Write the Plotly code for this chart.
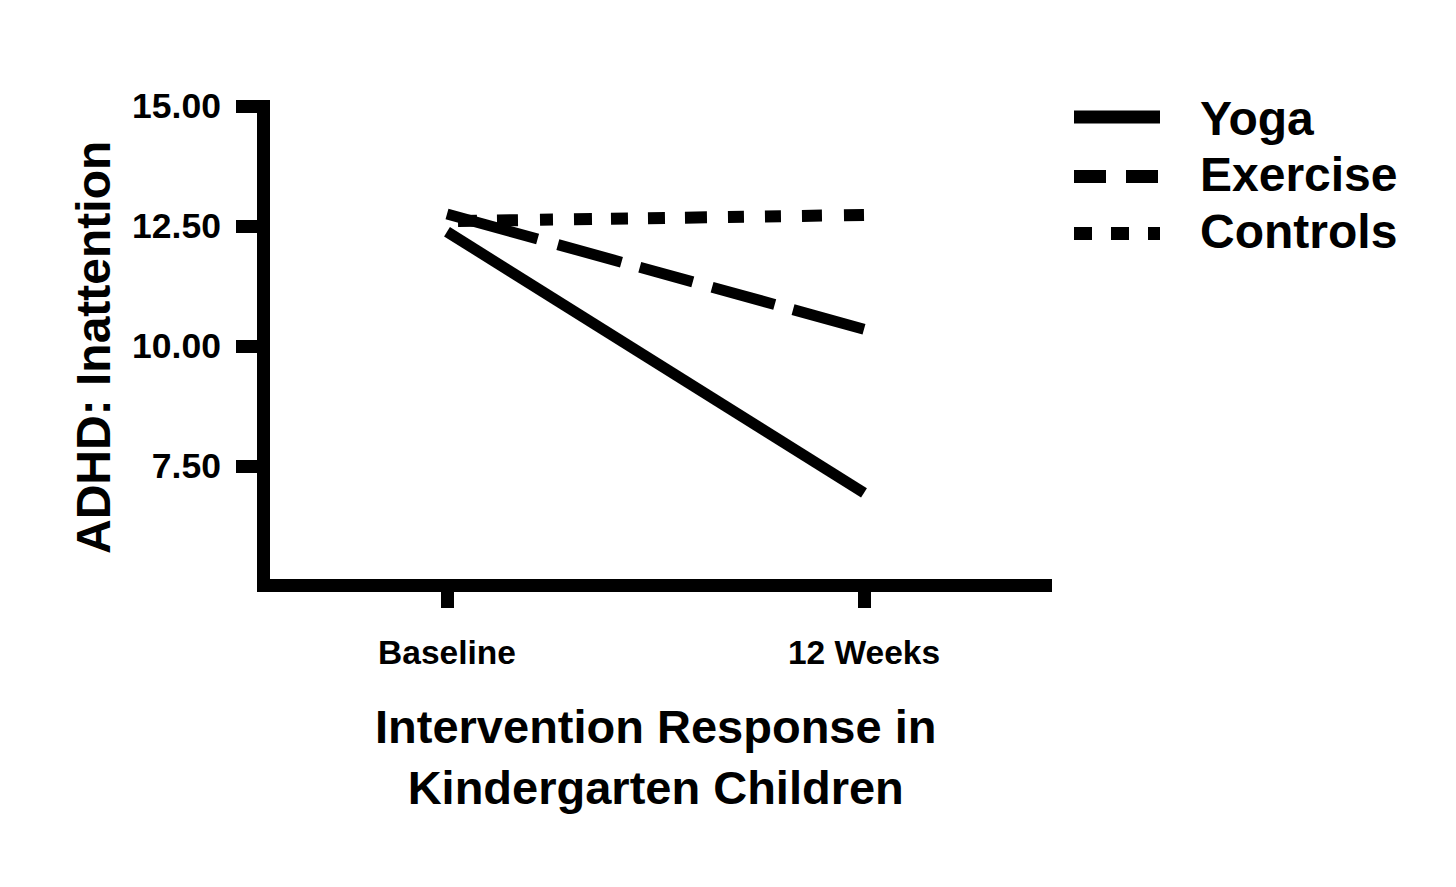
import plotly.graph_objects as go

# ---- data ----
categories = ["Baseline", "12 Weeks"]
yoga = [12.38, 6.94]
exercise = [12.75, 10.35]
controls = [12.60, 12.73]
series_names = ["Yoga", "Exercise", "Controls"]
y_ticks = [7.5, 10.0, 12.5, 15.0]
y_ticklabels = ["7.50", "10.00", "12.50", "15.00"]

# page body has an 8px margin; build the figure to fill the rest of the window
OFF = 8
W, H = 1456 - OFF, 887 - OFF
L_S, R_S, T_S, B_S = 270, 1052, 100, 579   # plot area in window pixels
L, T = L_S - OFF, T_S - OFF
R = W - (R_S - OFF)
B = H - (B_S - OFF)
FONT = "Liberation Sans"
PW = R_S - L_S
PH = B_S - T_S


def px(xp):
    return (xp - L_S) / PW


def py(yp):
    return (B_S - yp) / PH


exercise_dash = "94px,21px,66px,19px,55px,20px,65px,19px,200px,10px"
controls_dash = ("0px,11px,19px,20px,21px,22px,13px,21px,18px,19px,17px,20px,"
                 "17px,20px,22px,21px,16px,21px,16px,21px,20px,22px,40px,10px")

fig = go.Figure()
fig.add_trace(go.Scatter(x=categories, y=yoga, mode="lines", name=series_names[0],
                         line=dict(color="black", width=11, dash="solid")))
fig.add_trace(go.Scatter(x=categories, y=exercise, mode="lines", name=series_names[1],
                         line=dict(color="black", width=11, dash=exercise_dash)))
fig.add_trace(go.Scatter(x=categories, y=controls, mode="lines", name=series_names[2],
                         line=dict(color="black", width=12, dash=controls_dash)))

fig.update_layout(
    width=W, height=H,
    margin=dict(l=L, r=R, t=T, b=B, pad=0),
    paper_bgcolor="white", plot_bgcolor="white",
    showlegend=False,
    font=dict(family=FONT, color="black"),
)
fig.update_xaxes(
    type="category",
    range=[(L_S - 447) / 417, (R_S - 447) / 417],
    showline=True, linewidth=13, linecolor="black",
    ticks="outside", ticklen=16, tickwidth=13, tickcolor="black",
    showgrid=False, zeroline=False,
    tickfont=dict(family=FONT, size=33.5, weight="bold", color="black"),
    ticklabelstandoff=16,
)
fig.update_yaxes(
    range=[5.146, 15.125],
    tickvals=y_ticks, ticktext=y_ticklabels,
    showline=True, linewidth=13, linecolor="black",
    ticks="outside", ticklen=21, tickwidth=13, tickcolor="black",
    showgrid=False, zeroline=False,
    tickfont=dict(family=FONT, size=35.5, weight="bold", color="black"),
    ticklabelstandoff=8,
)

annotations = []
# axis titles
annotations.append(dict(text="ADHD: Inattention", textangle=-90, x=px(93), y=py(348),
                        xref="paper", yref="paper", xanchor="center", yanchor="middle",
                        showarrow=False, font=dict(family=FONT, size=48, weight="bold")))
annotations.append(dict(text="Intervention Response in<br>Kindergarten Children",
                        x=px(655), y=py(757), xref="paper", yref="paper",
                        xanchor="center", yanchor="middle", showarrow=False,
                        font=dict(family=FONT, size=47, weight="bold")))
# manual legend
legend_y = [117, 176.5, 233.5]
text_y = [118.5, 174, 231]
legend_dash = ["solid", "32px,20px", "18px,19px"]
shapes = []
for name, ly, ty, dsh in zip(series_names, legend_y, text_y, legend_dash):
    shapes.append(dict(type="line", xref="paper", yref="paper",
                       x0=px(1074), x1=px(1160), y0=py(ly), y1=py(ly),
                       line=dict(color="black", width=13, dash=dsh)))
    annotations.append(dict(text=name, x=px(1198), y=py(ty), xref="paper", yref="paper",
                            xanchor="left", yanchor="middle", showarrow=False,
                            font=dict(family=FONT, size=48, weight="bold")))
fig.update_layout(annotations=annotations, shapes=shapes)

fig.write_html("out.html")
